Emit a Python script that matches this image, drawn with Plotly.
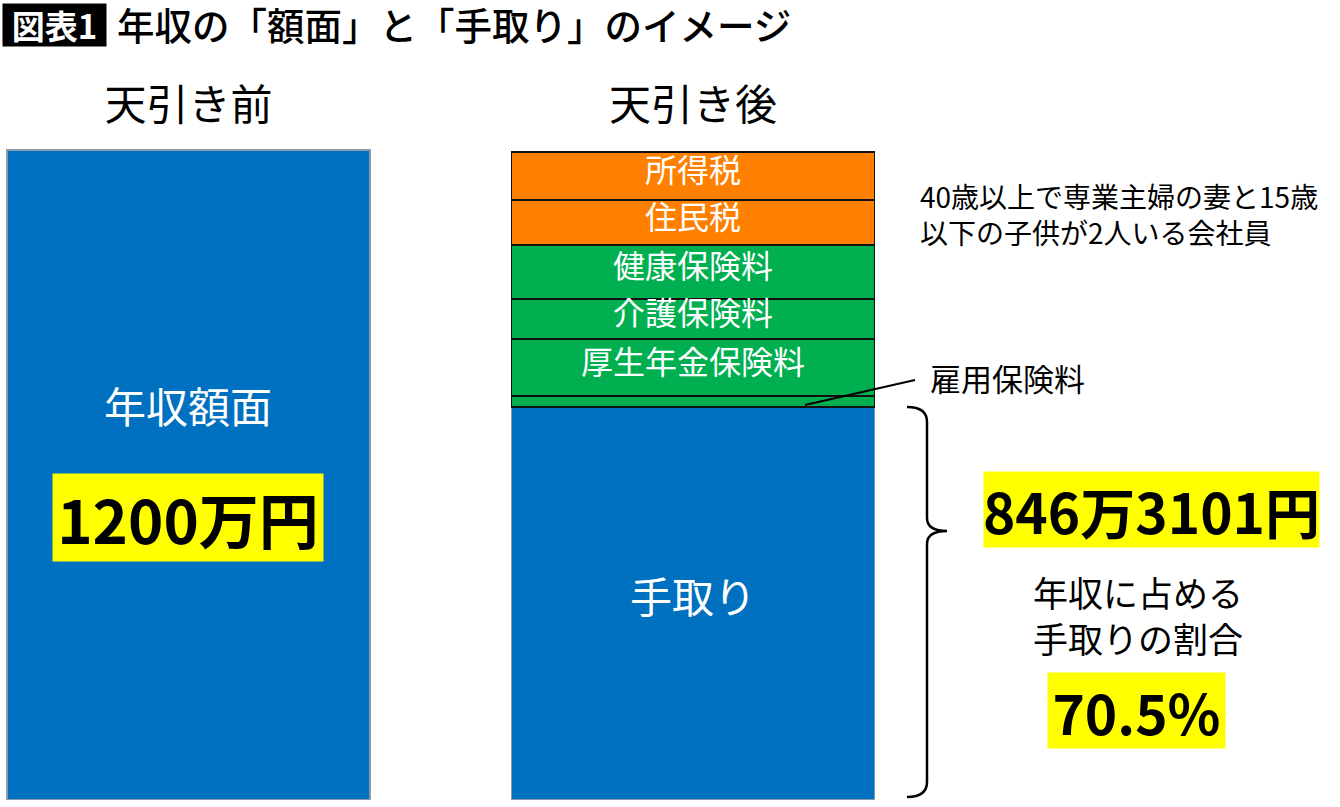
import plotly.graph_objects as go

# bar heights as drawn in the picture (the picture is not to scale)
before_label = "天引き前"
after_label = "天引き後"
gross_height = 650

segments = ["手取り", "雇用保険料", "厚生年金保険料", "介護保険料", "健康保険料", "住民税", "所得税"]
seg_heights = [393, 11, 57, 40, 54, 45, 48]
seg_colors = ["#0070C0", "#00B050", "#00B050", "#00B050", "#00B050", "#FF8000", "#FF8000"]
seg_lines = ["#8C99A6", "#111111", "#111111", "#111111", "#111111", "#111111", "#111111"]
seg_text = ["手取り", "", "厚生年金保険料", "介護保険料", "健康保険料", "住民税", "所得税"]

gross_text = "1200万円"
net_text = "846万3101円"
ratio_text = "70.5%"

W, H = 1340, 807
TOP, BOT = 140, 800
FONT = "Noto Sans CJK JP"


def P(x, y):
    # pixel position -> paper coords
    return x / W, (BOT - y) / (BOT - TOP)


fig = go.Figure()

fig.add_trace(go.Bar(
    x=[before_label], y=[gross_height], width=0.72,
    marker=dict(color="#0070C0", line=dict(color="#8C99A6", width=1.5)),
    showlegend=False, hoverinfo="skip",
))

base = 0
for name, h, c, lc, t in zip(segments, seg_heights, seg_colors, seg_lines, seg_text):
    fig.add_trace(go.Bar(
        x=[after_label], y=[h], width=0.72, name=name,
        marker=dict(color=c, line=dict(color=lc, width=1.5)),
        showlegend=False, hoverinfo="skip",
    ))
    if t:
        size = 42 if name == "手取り" else 32
        fig.add_annotation(x=after_label, y=base + h / 2, xref="x", yref="y", text=t,
                           showarrow=False, yanchor="middle", yshift=round(size * 0.12) + 4,
                           font=dict(family=FONT, size=size, color="white"))
    base += h


def note(x, y, text, size, color="black", weight=400, xanchor="center", align="center"):
    px, py = P(x, y)
    fig.add_annotation(x=px, y=py, xref="paper", yref="paper", text=text, showarrow=False,
                       xanchor=xanchor, yanchor="middle", yshift=round(size * 0.12),
                       align=align, font=dict(family=FONT, size=size, color=color, weight=weight))


def box(x0, y0, x1, y1, text, size):
    px, py = P((x0 + x1) / 2, (y0 + y1) / 2)
    fig.add_annotation(x=px, y=py, xref="paper", yref="paper", text=text, showarrow=False,
                       xanchor="center", yanchor="middle", width=x1 - x0, height=y1 - y0,
                       bgcolor="#FFFF00", borderpad=0, align="center", valign="middle",
                       font=dict(family=FONT, size=size, color="black", weight=700))


# header
hx, hy = P(54.5, 25)
fig.add_annotation(x=hx, y=hy, xref="paper", yref="paper", text="図表1", showarrow=False,
                   xanchor="center", yanchor="middle", width=103, height=42, bgcolor="black",
                   borderpad=0, font=dict(family=FONT, size=33, color="white", weight=700))
note(115, 27, "年収の「額面」と「手取り」のイメージ", 37.5, weight=500, xanchor="left")

# left bar labels
note(188, 409, "年収額面", 42, color="white")
box(53, 474, 323, 561, gross_text, 60)

# right side notes
note(918, 217, "40歳以上で専業主婦の妻と15歳<br>以下の子供が2人いる会社員", 28,
     xanchor="left", align="left")
note(928, 381, "雇用保険料", 31, xanchor="left")
box(984, 472, 1319, 547, net_text, 55)
note(1138, 618, "年収に占める<br>手取りの割合", 35)
box(1048, 673, 1225, 748, ratio_text, 55)

# leader line to the thin segment
x0, y0 = P(805, 405)
x1, y1 = P(915, 380)
fig.add_shape(type="line", xref="paper", yref="paper", x0=x0, y0=y0, x1=x1, y1=y1,
              line=dict(color="black", width=2))

# curly brace next to the take-home part
pts = [("M", 907, 407), ("Q", 927, 407), ("", 927, 422), ("L", 927, 518), ("Q", 927, 531),
       ("", 947, 531), ("Q", 927, 531), ("", 927, 544), ("L", 927, 782), ("Q", 927, 797),
       ("", 907, 797)]
path = ""
for cmd, x, y in pts:
    px, py = P(x, y)
    path += f"{cmd} {px:.5f},{py:.5f} "
fig.add_shape(type="path", xref="paper", yref="paper", path=path.strip(),
              line=dict(color="black", width=2.5))

fig.update_layout(
    width=W, height=H, barmode="stack",
    margin=dict(l=0, r=0, t=TOP, b=H - BOT),
    paper_bgcolor="white", plot_bgcolor="white",
    xaxis=dict(side="top", range=[-0.3736, 2.2825], showgrid=False, zeroline=False,
               showline=False, ticks="", ticklabelstandoff=11,
               tickfont=dict(family=FONT, size=42, color="black"), fixedrange=True),
    yaxis=dict(visible=False, range=[0, BOT - TOP], fixedrange=True),
)

# the page's default body margin would push the figure 8px off
fig.write_html("out.html", config={"displayModeBar": False},
               post_script="document.body.style.margin='0';")
